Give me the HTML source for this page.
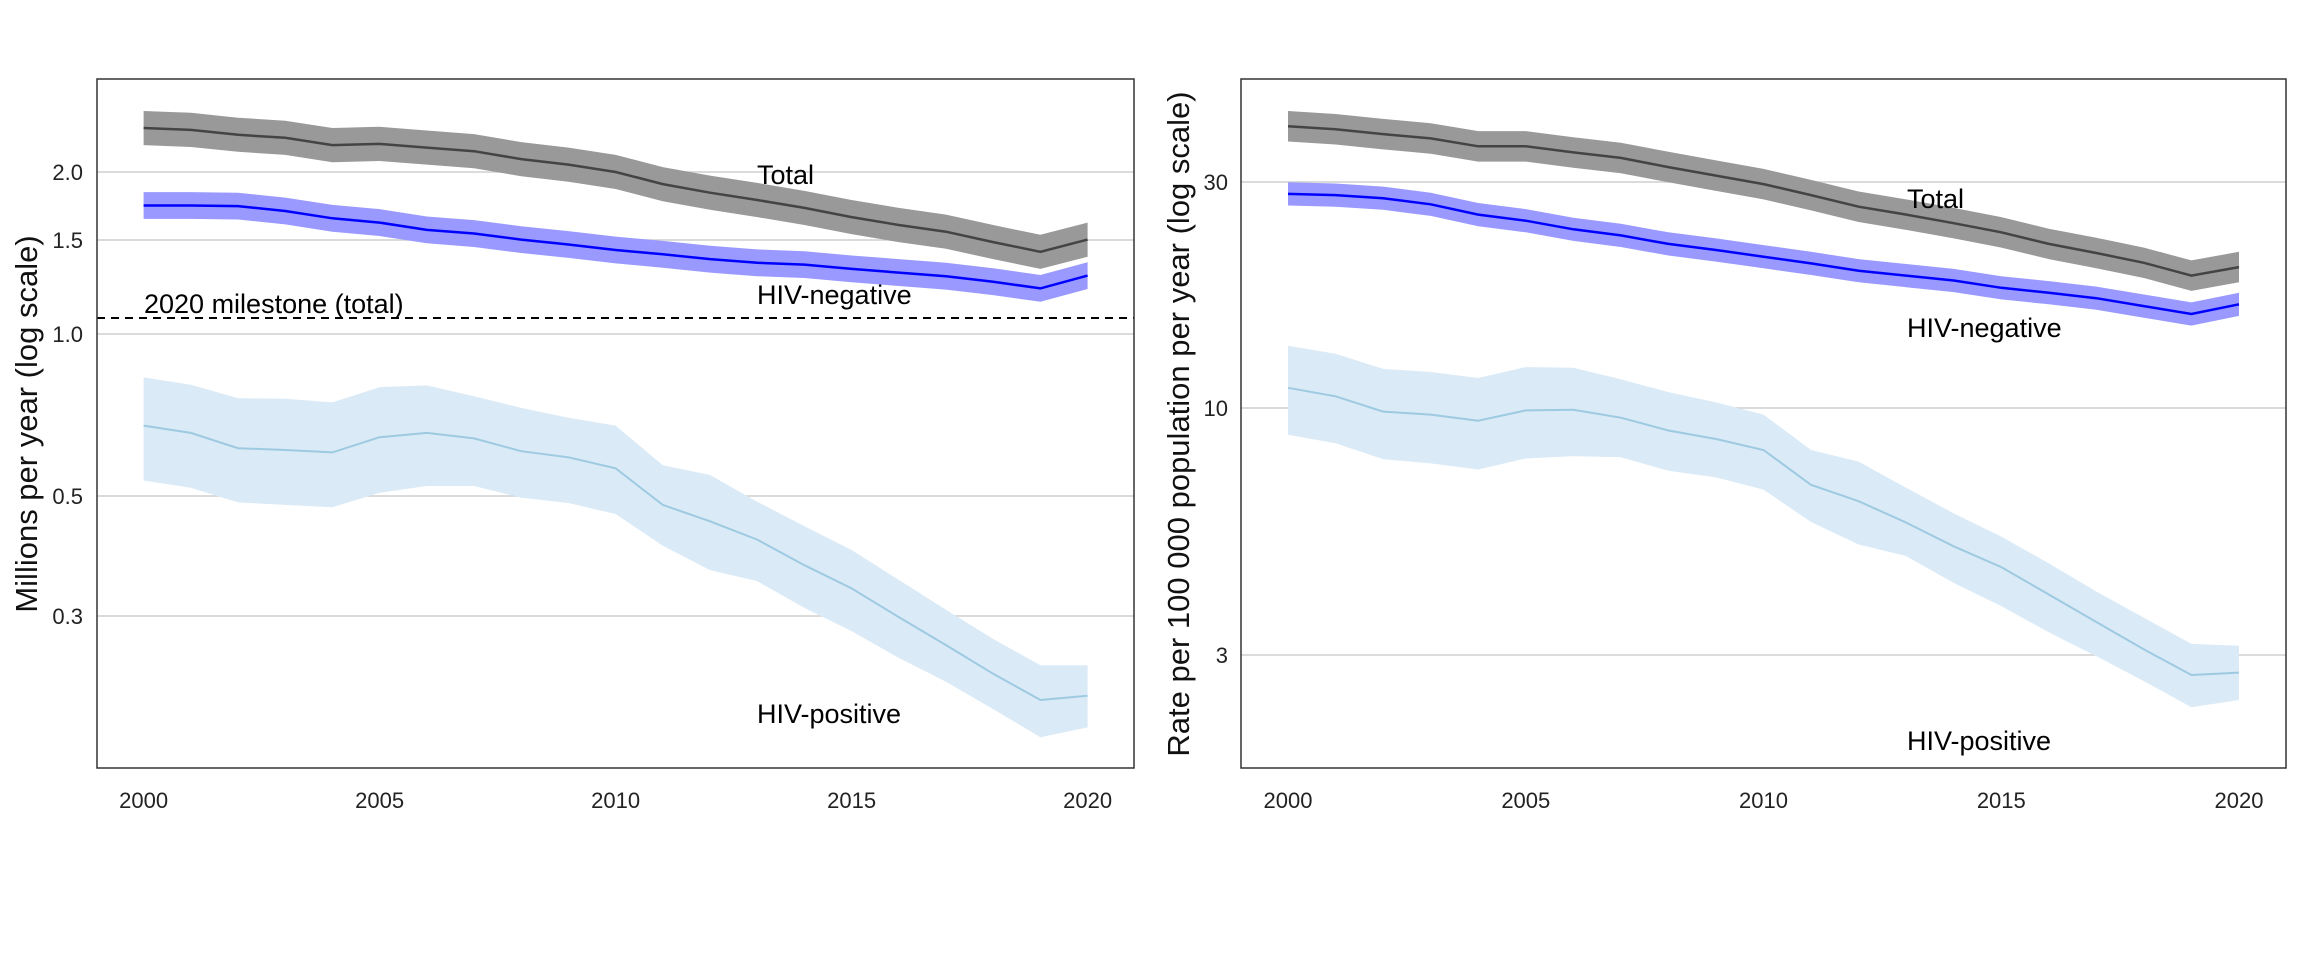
<!DOCTYPE html>
<html><head><meta charset="utf-8"><style>
html,body{margin:0;padding:0;background:#fff;}
svg{display:block;font-family:"Liberation Sans",Arial,sans-serif;}
</style></head><body>
<svg id="s" width="2304" height="960" viewBox="0 0 2304 960" xmlns="http://www.w3.org/2000/svg">
<rect width="2304" height="960" fill="#fff"/>
<g stroke="#cfcfcf" stroke-width="1.5">
<line x1="97" x2="1134" y1="172" y2="172"/><line x1="97" x2="1134" y1="240" y2="240"/>
<line x1="97" x2="1134" y1="334" y2="334"/><line x1="97" x2="1134" y1="496" y2="496"/>
<line x1="97" x2="1134" y1="616" y2="616"/>
<line x1="1241" x2="2286" y1="182" y2="182"/><line x1="1241" x2="2286" y1="408" y2="408"/>
<line x1="1241" x2="2286" y1="655" y2="655"/>
</g>
<g id="data"></g>
<line x1="97" x2="1134" y1="318" y2="318" stroke="#000" stroke-width="2" stroke-dasharray="8,6"/>
<rect x="97" y="79" width="1037" height="689" fill="none" stroke="#333" stroke-width="1.5"/>
<rect x="1241" y="79" width="1045" height="689" fill="none" stroke="#333" stroke-width="1.5"/>
<g font-size="22" fill="#222" text-anchor="middle">
<text x="143.6" y="808">2000</text><text x="379.6" y="808">2005</text><text x="615.6" y="808">2010</text><text x="851.6" y="808">2015</text><text x="1087.6" y="808">2020</text>
<text x="1288" y="808">2000</text><text x="1525.8" y="808">2005</text><text x="1763.5" y="808">2010</text><text x="2001.3" y="808">2015</text><text x="2239" y="808">2020</text>
</g>
<g font-size="22" fill="#222" text-anchor="end">
<text x="83" y="180">2.0</text><text x="83" y="248">1.5</text><text x="83" y="342">1.0</text><text x="83" y="504">0.5</text><text x="83" y="624">0.3</text>
<text x="1228" y="190">30</text><text x="1228" y="416">10</text><text x="1228" y="663">3</text>
</g>
<g font-size="27" fill="#000">
<text x="144" y="313">2020 milestone (total)</text>
<text x="757" y="184">Total</text><text x="757" y="304">HIV-negative</text><text x="757" y="723">HIV-positive</text>
<text x="1907" y="208">Total</text><text x="1907" y="337">HIV-negative</text><text x="1907" y="750">HIV-positive</text>
</g>
<g font-size="31" fill="#111" text-anchor="middle">
<text transform="translate(37,424) rotate(-90)">Millions per year (log scale)</text>
<text transform="translate(1189,424) rotate(-90)">Rate per 100 000 population per year (log scale)</text>
</g>
</svg>
<script>
var sy=1.64;
function P(x0,dx,arr){return arr.map(function(v,i){return [x0+dx*i,v/sy];});}
function band(x0,dx,c,w,lo,hi,fill){
  var up=lo?P(x0,dx,hi):P(x0,dx,c.map(function(v){return v-w;}));
  var dn=lo?P(x0,dx,lo):P(x0,dx,c.map(function(v){return v+w;}));
  var d='M'+up.map(function(p){return p[0].toFixed(1)+','+p[1].toFixed(1);}).join('L')+'L'+dn.reverse().map(function(p){return p[0].toFixed(1)+','+p[1].toFixed(1);}).join('L')+'Z';
  return '<path d="'+d+'" fill="'+fill+'"/>';
}
function line(x0,dx,c,col,w){
  var pts=P(x0,dx,c);
  return '<polyline points="'+pts.map(function(p){return p[0].toFixed(1)+','+p[1].toFixed(1);}).join(' ')+'" fill="none" stroke="'+col+'" stroke-width="'+w+'"/>';
}
var h='';
var lx=143.6,ldx=47.2;
var lt=[210,213,221,226,238,236,242,248,261,270,282,302,316,328,341,356,369,380,397,413,393];
var ln=[337,337,338,346,358,365,377,383,393,401,410,417,425,431,434,441,447,453,462,473,452];
var lp=[698,710,735,738,742,717,710,719,740,750,768,828,855,885,927,965,1012,1058,1105,1148,1141];
var lpu=[619,631,653,654,660,635,632,650,669,685,698,763,779,823,863,902,951,1000,1048,1091,1091];
var lpl=[788,800,824,828,832,808,797,797,816,825,843,895,935,953,997,1035,1079,1118,1163,1209,1193];
h+=band(lx,ldx,lp,0,lpl,lpu,'#daeaf7');
h+=line(lx,ldx,lp,'#9ecae1',2);
h+=band(lx,ldx,lt,28,null,null,'#999999');
h+=line(lx,ldx,lt,'#444444',2.5);
h+=band(lx,ldx,ln,22,null,null,'#9999ff');
h+=line(lx,ldx,ln,'#0000ff',2.5);
var rx=1288,rdx=47.55;
var rt=[207,212,220,227,240,240,250,259,274,288,302,320,339,352,366,381,400,415,431,452,438];
var rn=[318,320,325,335,352,362,376,386,400,410,421,432,444,452,460,472,480,489,502,515,499];
var rp=[636,650,675,680,690,673,672,685,706,720,738,795,822,857,896,930,975,1020,1065,1107,1103];
var rpu=[567,580,605,610,620,602,603,622,643,660,680,738,757,800,842,880,924,970,1013,1056,1059];
var rpl=[713,727,753,760,770,752,748,750,772,783,803,856,893,912,956,994,1037,1076,1117,1160,1148];
h+=band(rx,rdx,rp,0,rpl,rpu,'#daeaf7');
h+=line(rx,rdx,rp,'#9ecae1',2);
h+=band(rx,rdx,rt,25,null,null,'#999999');
h+=line(rx,rdx,rt,'#444444',2.5);
h+=band(rx,rdx,rn,19,null,null,'#9999ff');
h+=line(rx,rdx,rn,'#0000ff',2.5);
document.getElementById('data').innerHTML=h;
</script>
</body></html>
